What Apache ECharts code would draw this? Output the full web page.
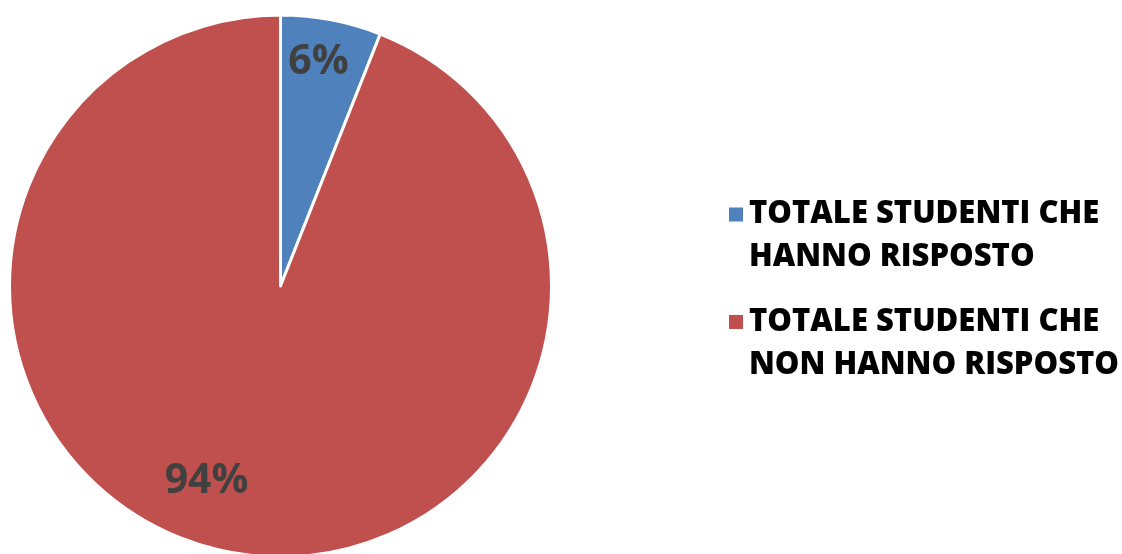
<!DOCTYPE html>
<html><head><meta charset="utf-8">
<script src="https://cdn.jsdelivr.net/npm/echarts@6/dist/echarts.min.js"></script>
<style>html,body{margin:0;padding:0;background:#fff}#c{width:1122px;height:554px}</style>
</head><body><div id="c"></div>
<script>
const categories = ["TOTALE STUDENTI CHE\nHANNO RISPOSTO", "TOTALE STUDENTI CHE\nNON HANNO RISPOSTO"];
const values = [6, 94];
const colors = ["#4F81BD", "#C0504D"];
const labelOffsets = [[12, -88], [-48, 59]];

const chart = echarts.init(document.getElementById('c'), null, {renderer: 'canvas'});
const legendText = {
  fontFamily: 'Open Sans', fontWeight: 800, fontSize: 31, color: '#000',
  lineHeight: 43
};
chart.setOption({
  animation: false,
  legend: categories.map((c, i) => ({
    data: [c], left: 722, top: [145, 252.5][i], orient: 'vertical',
    icon: 'rect', itemWidth: 16, itemHeight: 16, itemGap: 0,
    formatter: n => '\u00a0\n' + n,
    textStyle: legendText, selectedMode: false
  })),
  series: [{
    type: 'pie', center: [280.5, 286], radius: 271, startAngle: 90, clockwise: true,
    itemStyle: {borderColor: '#fff', borderWidth: 3},
    label: {show: true, position: 'inside', formatter: '{d}%', fontFamily: 'Open Sans', fontWeight: 'bold', fontSize: 41, color: '#404040'},
    labelLine: {show: false},
    emphasis: {disabled: true},
    data: categories.map((c, i) => ({name: c, value: values[i], itemStyle: {color: colors[i]}, label: {offset: labelOffsets[i]}}))
  }]
});
</script></body></html>
